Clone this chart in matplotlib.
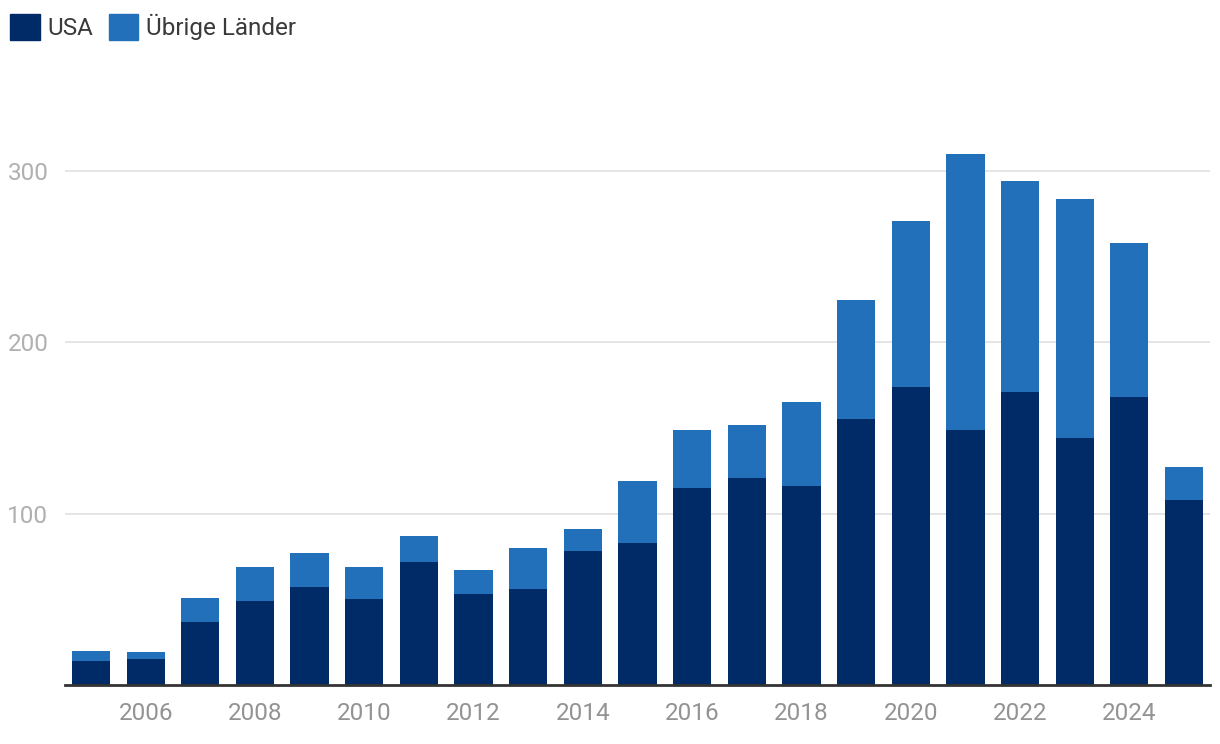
import matplotlib
matplotlib.use("Agg")
import matplotlib.pyplot as plt
from matplotlib.patches import Patch

years = list(range(2005, 2026))
usa = [14, 15, 37, 49, 57, 50, 72, 53, 56, 78, 83, 115, 121, 116, 155, 174, 149, 171, 144, 168, 108]
total = [20, 19, 51, 69, 77, 69, 87, 67, 80, 91, 119, 149, 152, 165, 225, 271, 310, 294, 284, 258, 127]
other = [t - u for t, u in zip(total, usa)]
xticks = list(range(2006, 2025, 2))
yticks = [100, 200, 300]

c_usa = "#002b66"
c_other = "#2170b9"

plt.rcParams['font.family'] = ['Roboto', 'DejaVu Sans']

fig = plt.figure(figsize=(12.2, 7.44), dpi=100)
ax = fig.add_axes([65/1220, 59/744, (1210-65)/1220, (685-140)/744])

ax.bar(years, usa, width=0.7, color=c_usa, zorder=3)
ax.bar(years, other, width=0.7, bottom=usa, color=c_other, zorder=3)

ax.set_xlim(2004.524, 2025.476)
ax.set_ylim(0, (685-140)/1.713)
ax.set_xticks(xticks)
ax.set_xticklabels([str(x) for x in xticks])
ax.set_yticks(yticks)
ax.set_yticklabels([str(y) for y in yticks])
ax.grid(axis='y', color='#e0e0e0', linewidth=1.2, zorder=0)
for s in ['top', 'right', 'left']:
    ax.spines[s].set_visible(False)
ax.spines['bottom'].set_color('#333333')
ax.spines['bottom'].set_linewidth(2)
ax.spines['bottom'].set_zorder(4)
ax.tick_params(axis='x', length=0, pad=12, labelsize=17.5, labelcolor='#939393')
ax.tick_params(axis='y', length=0, pad=12, labelsize=17.5, labelcolor='#b0b0b0')

handles = [Patch(color=c_usa, label='USA'), Patch(color=c_other, label='Übrige Länder')]
fig.legend(handles=handles, loc='upper left', bbox_to_anchor=(10/1220, 1 - 14/744), ncol=2,
           frameon=False, fontsize=17.5, handlelength=1.22, handleheight=1.22,
           handletextpad=0.3, columnspacing=0.65, labelcolor='#3a3a3a',
           borderaxespad=0, borderpad=0)

fig.savefig("out.png", dpi=100)
